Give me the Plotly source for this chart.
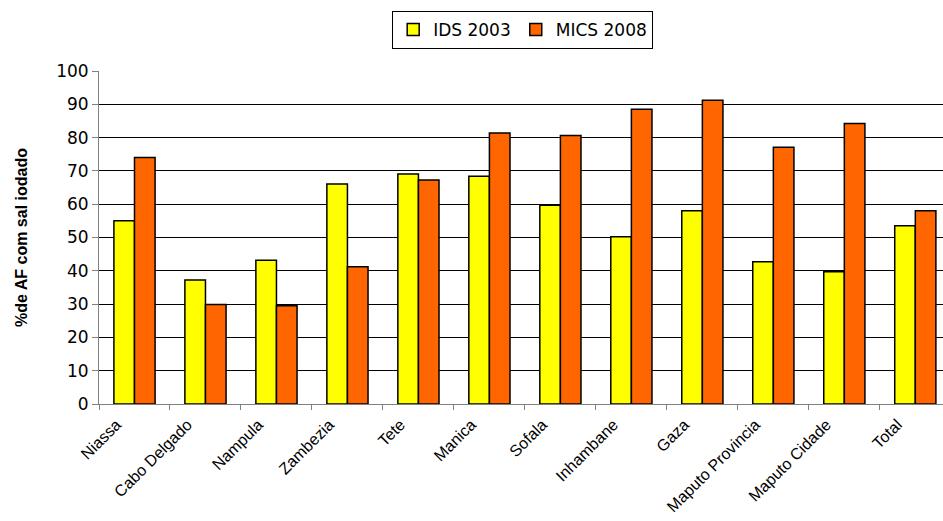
import plotly.graph_objects as go

categories = ["Niassa", "Cabo Delgado", "Nampula", "Zambezia", "Tete", "Manica",
              "Sofala", "Inhambane", "Gaza", "Maputo Provincia", "Maputo Cidade", "Total"]
ids_2003 = [55.0, 37.2, 43.2, 66.1, 69.1, 68.4, 59.7, 50.2, 58.0, 42.7, 39.7, 53.5]
mics_2008 = [74.0, 29.9, 29.5, 41.2, 67.3, 81.4, 80.6, 88.5, 91.2, 77.1, 84.2, 58.0]
y_ticks = list(range(0, 101, 10))

FONT = "Liberation Sans, Arial, sans-serif"
WIDE = "DejaVu Sans, sans-serif"

fig = go.Figure()
fig.add_trace(go.Bar(name="IDS 2003", x=categories, y=ids_2003,
                     marker=dict(color="#FFFF00", line=dict(color="black", width=1.5))))
fig.add_trace(go.Bar(name="MICS 2008", x=categories, y=mics_2008,
                     marker=dict(color="#FF6600", line=dict(color="black", width=1.5))))

fig.update_layout(
    width=943, height=521,
    margin=dict(l=99, r=0, t=71, b=117),
    paper_bgcolor="white", plot_bgcolor="white",
    barmode="group", bargap=0.42, bargroupgap=0,
    font=dict(family=FONT, color="black"),
    legend=dict(orientation="h", x=0.502, xanchor="center", y=1.18, yanchor="top",
                bordercolor="black", borderwidth=1, font=dict(size=17, family=WIDE),
                itemwidth=30, traceorder="normal"),
    xaxis=dict(range=[-0.5, 11.39], showline=True, linecolor="#808080", linewidth=1,
               ticks="outside", tickson="boundaries", ticklen=5, tickcolor="#808080",
               tickangle=-45, tickfont=dict(size=16, family=FONT), showgrid=False,
               ticklabelshift=-18, ticklabelstandoff=4, automargin=False),
    yaxis=dict(range=[0, 100], tickvals=y_ticks, showline=True, linecolor="#808080",
               linewidth=1, ticks="outside", ticklen=6, tickcolor="#808080",
               gridcolor="black", gridwidth=1, zeroline=False, automargin=False,
               tickfont=dict(size=17, family=WIDE),
               title=dict(text="<b>%de AF com sal iodado</b>", font=dict(size=16, family=FONT),
                          standoff=24)),
)

fig.write_html("out.html")
